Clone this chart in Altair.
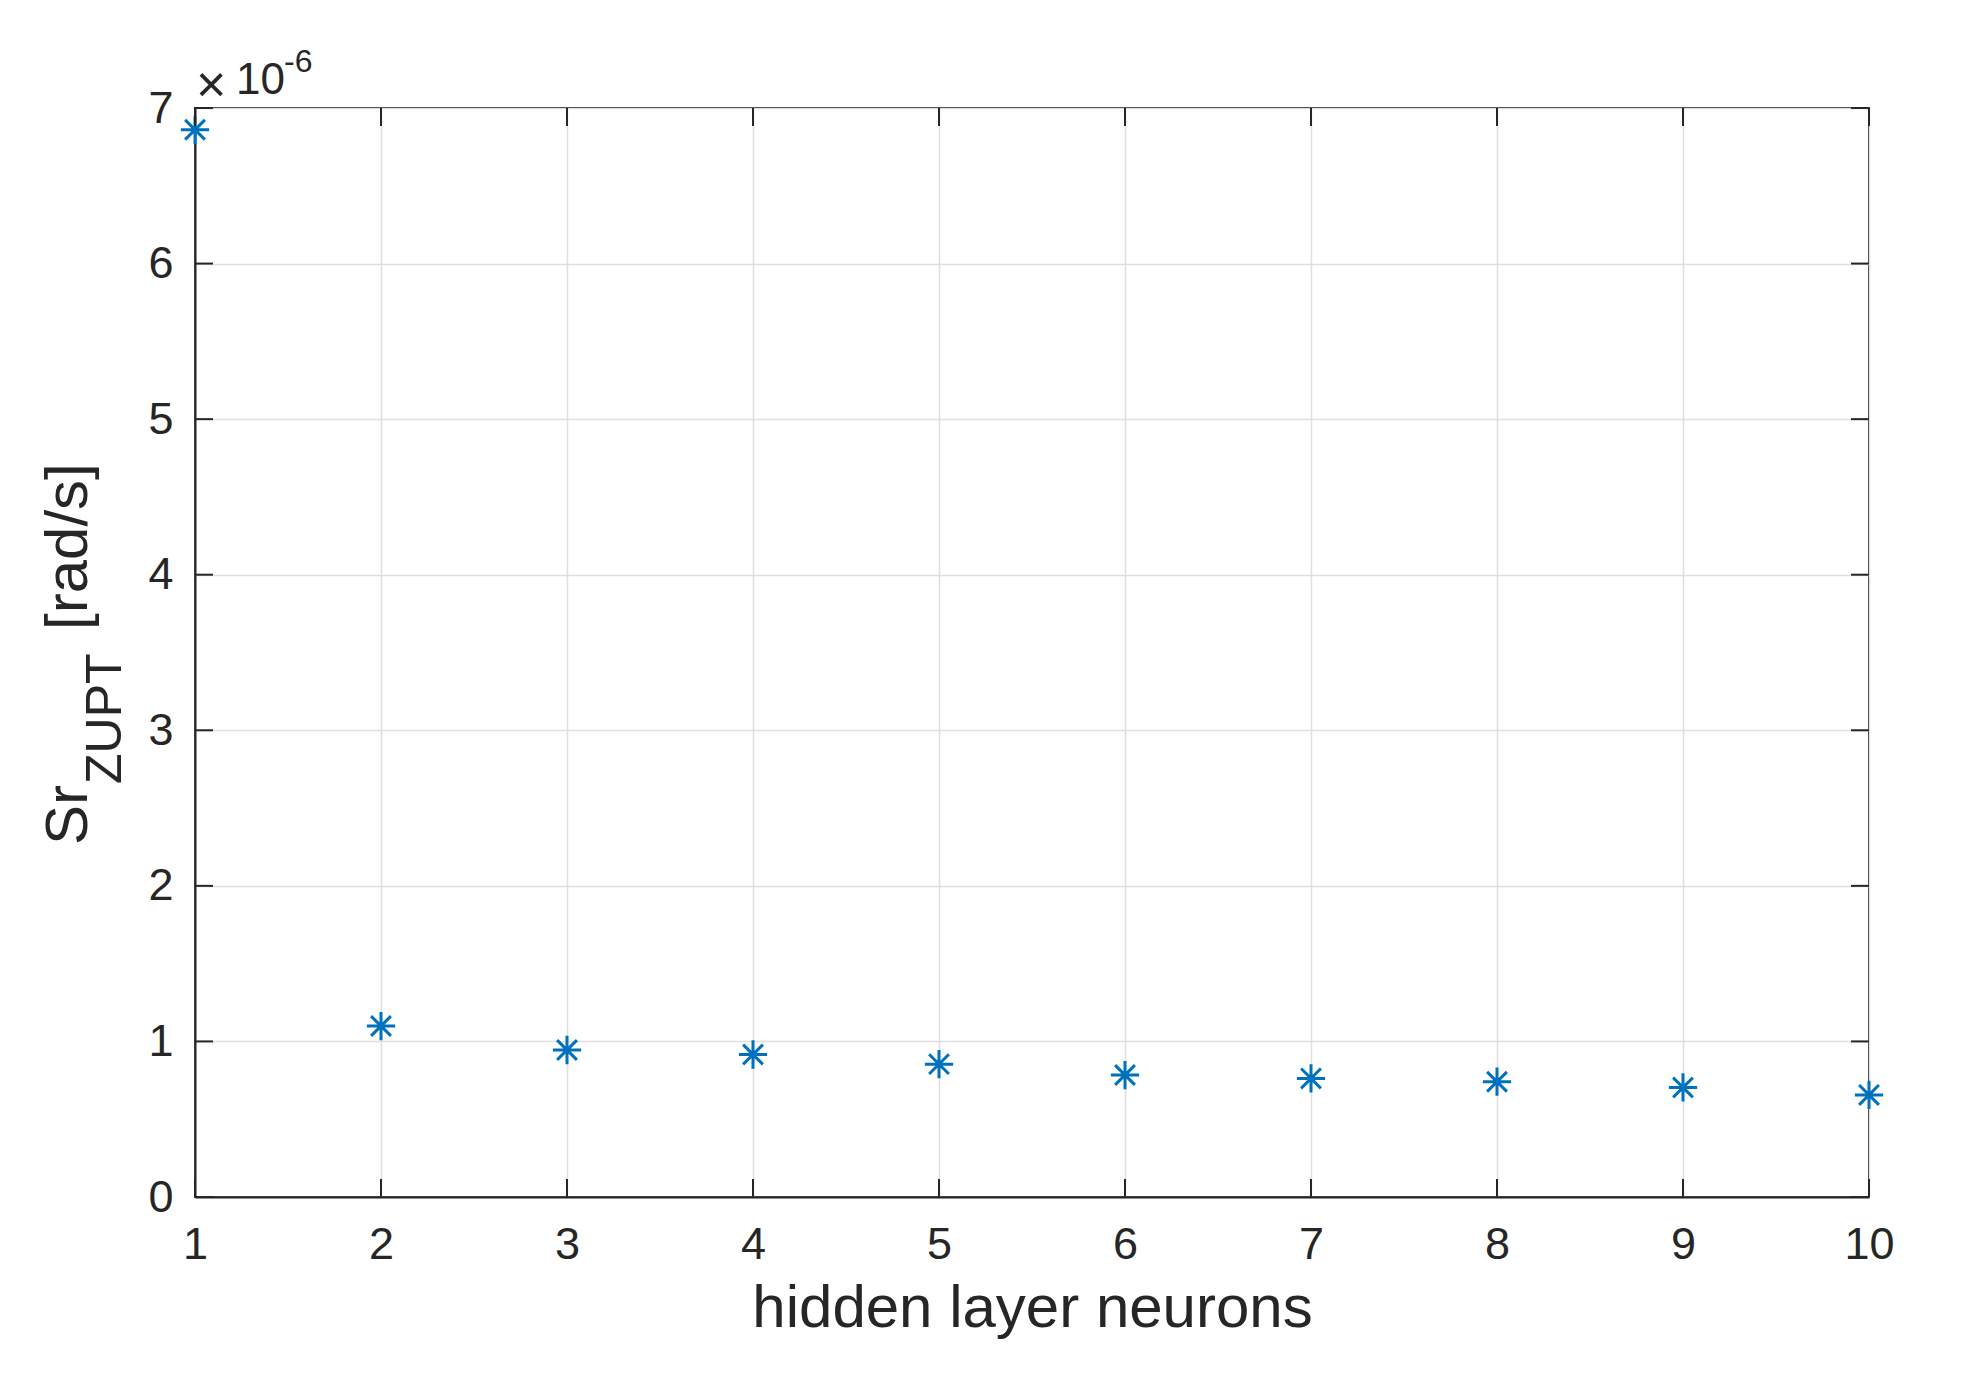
import altair as alt
import pandas as pd

# ---- data (values in units of 1e-6 rad/s) ----
neurons = [1, 2, 3, 4, 5, 6, 7, 8, 9, 10]
sr_zupt_e6 = [6.86, 1.099, 0.945, 0.916, 0.854, 0.784, 0.762, 0.741, 0.704, 0.656]
x_ticks = [1, 2, 3, 4, 5, 6, 7, 8, 9, 10]
y_ticks = [0, 1, 2, 3, 4, 5, 6, 7]
x_title = "hidden layer neurons"
y_title_main = "Sr"
y_title_sub = "ZUPT"
y_title_unit = "[rad/s]"
exp_times = "\u00d7"
exp_base = "10"
exp_power = "-6"

W, H = 1674, 1089
FONT = "Liberation Sans"
INK = "#262626"
GRID = "#dfdfdf"
BLUE = "#0072BD"
TICK = 18

df = pd.DataFrame({"n": neurons, "v": sr_zupt_e6})
xt = pd.DataFrame({"t": x_ticks})
yt = pd.DataFrame({"t": y_ticks})

xscale = alt.Scale(domain=[1, 10], nice=False, zero=False)
yscale = alt.Scale(domain=[0, 7], nice=False, zero=True)

x_axis = alt.Axis(
    values=x_ticks, format="d", grid=True, gridColor=GRID, gridWidth=1.5,
    ticks=False, domainColor=INK, domainWidth=2,
    labelFont=FONT, labelFontSize=45, labelColor=INK, labelPadding=61,
    labelBaseline="alphabetic", labelFlush=False, labelOverlap=False,
    title=x_title, titleFont=FONT, titleFontSize=60, titleFontWeight="normal",
    titleColor=INK, titleY=129, titleBaseline="alphabetic",
)
y_axis = alt.Axis(
    values=y_ticks, format="d", grid=True, gridColor=GRID, gridWidth=1.5,
    ticks=False, domainColor=INK, domainWidth=2,
    labelFont=FONT, labelFontSize=45, labelColor=INK, labelPadding=22,
    labelBaseline="middle", labelFlush=False, labelOverlap=False,
    title=None,
)

star = "M0,-1L0,1M-1,0L1,0M-0.7,-0.7L0.7,0.7M-0.7,0.7L0.7,-0.7"

points = alt.Chart(df).mark_point(
    shape=star, size=800, filled=False, stroke=BLUE, strokeWidth=3,
    opacity=1, clip=False,
).encode(
    x=alt.X("n:Q", scale=xscale, axis=x_axis),
    y=alt.Y("v:Q", scale=yscale, axis=y_axis),
)

# inward ticks (MATLAB style) on all four sides
xt_bottom = alt.Chart(xt).mark_rule(color=INK, strokeWidth=2).encode(
    x=alt.X("t:Q", scale=xscale), y=alt.value(H), y2=alt.value(H - TICK))
xt_top = alt.Chart(xt).mark_rule(color=INK, strokeWidth=2).encode(
    x=alt.X("t:Q", scale=xscale), y=alt.value(0), y2=alt.value(TICK))
yt_left = alt.Chart(yt).mark_rule(color=INK, strokeWidth=2).encode(
    y=alt.Y("t:Q", scale=yscale), x=alt.value(0), x2=alt.value(TICK))
yt_right = alt.Chart(yt).mark_rule(color=INK, strokeWidth=2).encode(
    y=alt.Y("t:Q", scale=yscale), x=alt.value(W), x2=alt.value(W - TICK))

# y-axis title with subscript, built from pieces
t_main = alt.Chart(pd.DataFrame({"s": [y_title_main]})).mark_text(
    angle=270, align="left", baseline="alphabetic", font=FONT, fontSize=60, color=INK
).encode(x=alt.value(-108), y=alt.value(737), text="s:N")
t_sub = alt.Chart(pd.DataFrame({"s": [y_title_sub]})).mark_text(
    angle=270, align="left", baseline="alphabetic", font=FONT, fontSize=50, color=INK
).encode(x=alt.value(-74), y=alt.value(676), text="s:N")
t_unit = alt.Chart(pd.DataFrame({"s": [y_title_unit]})).mark_text(
    angle=270, align="left", baseline="alphabetic", font=FONT, fontSize=60, color=INK
).encode(x=alt.value(-108), y=alt.value(522), text="s:N")

# exponent label
e_times = alt.Chart(pd.DataFrame({"s": [exp_times]})).mark_text(
    align="left", baseline="alphabetic", font=FONT, fontSize=52, color=INK
).encode(x=alt.value(1), y=alt.value(-6), text="s:N")
e_base = alt.Chart(pd.DataFrame({"s": [exp_base]})).mark_text(
    align="left", baseline="alphabetic", font=FONT, fontSize=44, color=INK
).encode(x=alt.value(41), y=alt.value(-14), text="s:N")
e_pow = alt.Chart(pd.DataFrame({"s": [exp_power]})).mark_text(
    align="left", baseline="alphabetic", font=FONT, fontSize=32, color=INK
).encode(x=alt.value(89), y=alt.value(-36), text="s:N")

chart = alt.layer(
    points, xt_bottom, xt_top, yt_left, yt_right,
    t_main, t_sub, t_unit, e_times, e_base, e_pow,
).properties(
    width=W, height=H,
    autosize=alt.AutoSizeParams(type="none"),
    padding={"left": 187, "top": 100, "right": 100, "bottom": 160},
    background="white",
).configure_view(
    stroke=INK, strokeWidth=2,
)

chart.save("out.html", embed_options={"renderer": "svg", "actions": False})
